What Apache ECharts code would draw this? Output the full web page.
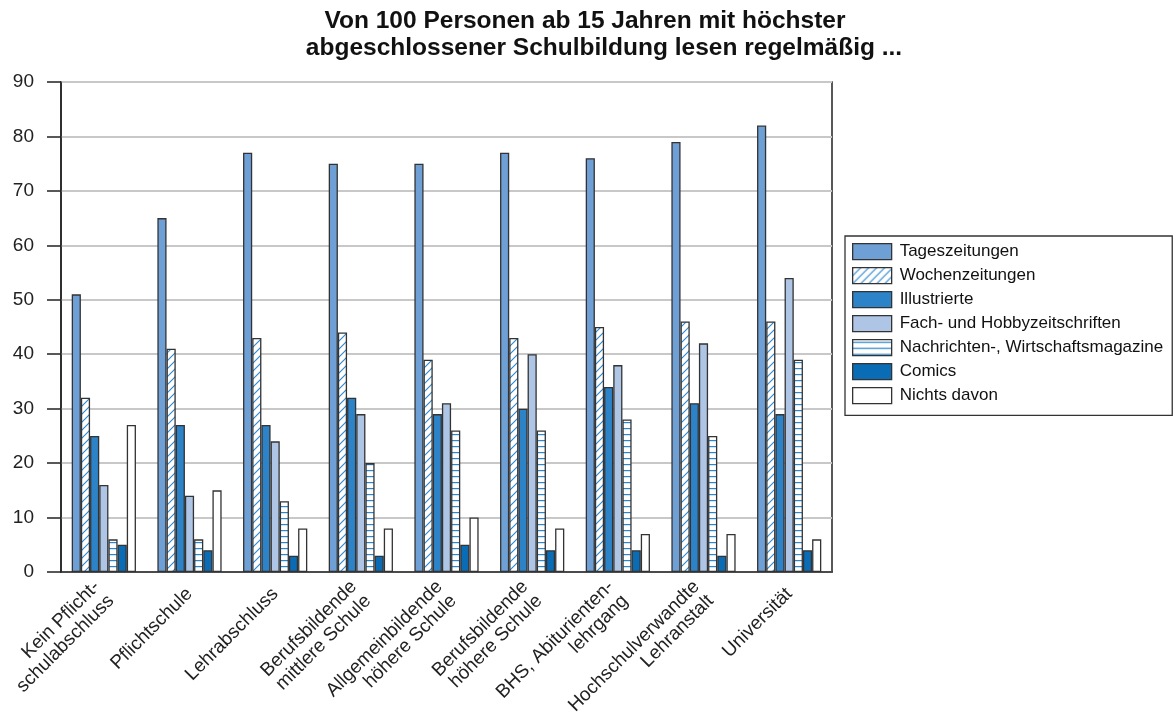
<!DOCTYPE html>
<html><head><meta charset="utf-8">
<script src="https://cdn.jsdelivr.net/npm/echarts@6/dist/echarts.min.js"></script>
<style>html,body{margin:0;padding:0;background:#fff}#c{width:1175px;height:717px}</style>
</head><body><div id="c"></div>
<script>
const titleLines = ["Von 100 Personen ab 15 Jahren mit höchster","abgeschlossener Schulbildung lesen regelmäßig ..."];
const categories = ["Kein Pflicht-\nschulabschluss","Pflichtschule","Lehrabschluss","Berufsbildende\nmittlere Schule","Allgemeinbildende\nhöhere Schule","Berufsbildende\nhöhere Schule","BHS, Abiturienten-\nlehrgang","Hochschulverwandte\nLehranstalt","Universität"];
const seriesNames = ["Tageszeitungen","Wochenzeitungen","Illustrierte","Fach- und Hobbyzeitschriften","Nachrichten-, Wirtschaftsmagazine","Comics","Nichts davon"];
const tageszeitungen = [51,65,77,75,75,77,76,79,82];
const wochenzeitungen = [32,41,43,44,39,43,45,46,46];
const illustrierte = [25,27,27,32,29,30,34,31,29];
const fachHobby = [16,14,24,29,31,40,38,42,54];
const nachrichten = [6,6,13,20,26,26,28,25,39];
const comics = [5,4,3,3,5,4,4,3,4];
const nichtsDavon = [27,15,8,8,10,8,7,7,6];
const yTicks = [0,10,20,30,40,50,60,70,80,90];

function diagPattern(){
  const c=document.createElement('canvas');c.width=8;c.height=8;
  const g=c.getContext('2d');g.fillStyle='#fff';g.fillRect(0,0,8,8);
  g.strokeStyle='#2a86d0';g.lineWidth=1.1;
  g.beginPath();g.moveTo(0,8);g.lineTo(8,0);g.moveTo(-1,1);g.lineTo(1,-1);g.moveTo(7,9);g.lineTo(9,7);g.stroke();
  return c;
}
function horizPattern(){
  const c=document.createElement('canvas');c.width=6;c.height=6;
  const g=c.getContext('2d');g.fillStyle='#fff';g.fillRect(0,0,6,6);
  g.fillStyle='#2a86d0';g.fillRect(0,2,6,1.2);
  return c;
}
const colors = ['#6e9fd5',{image:diagPattern(),repeat:'repeat'},'#2d83c8','#aec5e5',{image:horizPattern(),repeat:'repeat'},'#0a6cb5','#ffffff'];
const dataSets=[tageszeitungen,wochenzeitungen,illustrierte,fachHobby,nachrichten,comics,nichtsDavon];
const FONT='Liberation Sans, Arial, sans-serif';
const titleStyle={fontSize:24.5,fontWeight:'bold',color:'#111',lineHeight:27,fontFamily:FONT};

const chart=echarts.init(document.getElementById('c'),null,{renderer:'canvas'});
chart.setOption({
  animation:false,
  backgroundColor:'#fff',
  textStyle:{fontFamily:FONT},
  title:[
    {text:titleLines[0],left:585,top:8,textAlign:'center',padding:0,textStyle:titleStyle},
    {text:titleLines[1],left:604,top:35,textAlign:'center',padding:0,textStyle:titleStyle}
  ],
  legend:{orient:'vertical',left:845,top:236,icon:'rect',itemWidth:39,itemHeight:16,itemGap:6.7,padding:[7,9,11,7],
    borderColor:'#333',borderWidth:1.3,backgroundColor:'#fff',
    textStyle:{fontSize:17,color:'#111',lineHeight:17,padding:[0,0,0,3]},
    data:seriesNames,
    itemStyle:{borderColor:'#333',borderWidth:1.3}},
  grid:{left:61,right:343,top:82,bottom:145,show:true,borderColor:'#222',borderWidth:1.5,
    containLabel:false,outerBoundsMode:'none'},
  xAxis:{type:'category',data:categories,
    axisLine:{lineStyle:{color:'#222',width:1.5}},axisTick:{show:false},
    axisLabel:{rotate:45,fontSize:19,color:'#222',margin:19,interval:0,lineHeight:20}},
  yAxis:{type:'value',min:0,max:90,interval:10,
    axisLine:{show:true,lineStyle:{color:'#222',width:1.5}},
    axisTick:{show:true,length:14,lineStyle:{color:'#222',width:1.5}},
    axisLabel:{fontSize:19,color:'#222',margin:27},
    splitLine:{lineStyle:{color:'#c8c8c8',width:2}}},
  series:seriesNames.map((n,i)=>({name:n,type:'bar',data:dataSets[i],barGap:'0%',barCategoryGap:'25%',
    itemStyle:{color:colors[i],borderColor:'#333',borderWidth:1.3}}))
});
</script></body></html>
